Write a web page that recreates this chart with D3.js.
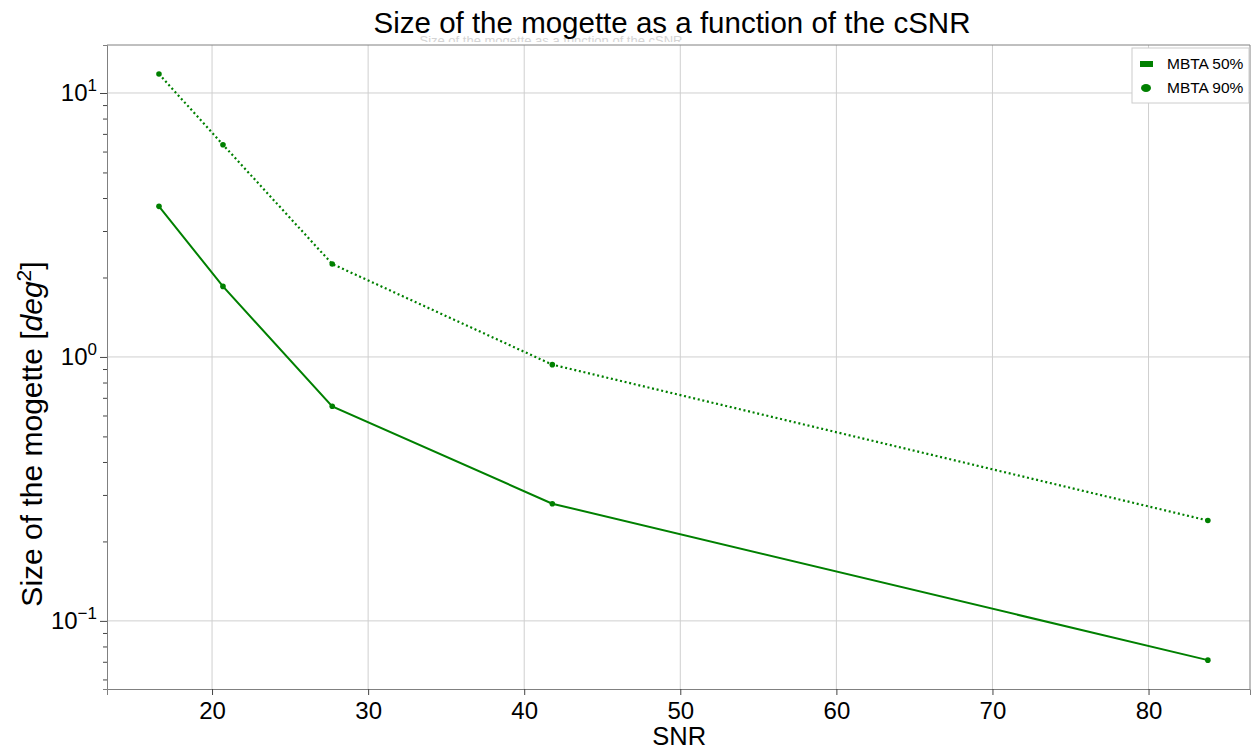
<!DOCTYPE html>
<html>
<head>
<meta charset="utf-8">
<script src="https://cdn.jsdelivr.net/npm/d3@7"></script>
<style>
  body { margin: 0; background: #fff; }
  svg { font-family: "Liberation Sans", Arial, sans-serif; }
</style>
</head>
<body>
<div id="chart"></div>
<script>
const snr = [16.6, 20.7, 27.7, 41.8, 83.8];
const mbta50 = [3.72, 1.85, 0.650, 0.278, 0.071];
const mbta90 = [11.8, 6.37, 2.25, 0.935, 0.240];
const xTicks = [20, 30, 40, 50, 60, 70, 80];
const seriesNames = ["MBTA 50%", "MBTA 90%"];

const width = 1251;
const height = 751;
const margin = {top:45, right:1, bottom:62, left:107};
const green = "#008000";

const svg = d3.select("#chart")
  .append("svg")
  .attr("width", width)
  .attr("height", height);

// X scale
const x = d3.scaleLinear()
  .domain([13.27, 86.5])
  .range([margin.left, width - margin.right]);

// Y scale (log)
const y = d3.scaleLog()
  .domain([0.0552, 15.2])
  .range([height - margin.bottom, margin.top]);

// faint ghost title behind the plot (only its top shows)
const clip = svg.append("clipPath").attr("id", "ghostclip");
clip.append("rect").attr("x", 0).attr("y", 0).attr("width", width).attr("height", 42);
svg.append("text")
  .attr("x", 551)
  .attr("y", 45)
  .attr("text-anchor", "middle")
  .attr("clip-path", "url(#ghostclip)")
  .style("font-size", "13px")
  .style("fill", "#d4d4d4")
  .text("Size of the mogette as a function of the cSNR");

// Grid
const major = [0.1, 1, 10];
svg.append("g")
  .selectAll("line")
  .data(xTicks)
  .join("line")
  .attr("x1", d => x(d)).attr("x2", d => x(d))
  .attr("y1", margin.top).attr("y2", height - margin.bottom)
  .attr("stroke", "#cfcfcf");
svg.append("g")
  .selectAll("line")
  .data(major)
  .join("line")
  .attr("x1", margin.left).attr("x2", width - margin.right)
  .attr("y1", d => y(d)).attr("y2", d => y(d))
  .attr("stroke", "#cfcfcf");

// X Axis
const xAxis = svg.append("g")
  .attr("transform", `translate(0,${height - margin.bottom})`)
  .call(d3.axisBottom(x).tickValues(xTicks).tickSize(6).tickPadding(7));
xAxis.select(".domain").attr("stroke", "#808080");
xAxis.selectAll(".tick line").attr("stroke", "#444");
xAxis.selectAll(".tick text")
  .style("font-size", "24px")
  .attr("fill", "#000");

// Y Axis with minor ticks
const yTickVals = y.ticks();
const yAxis = svg.append("g")
  .attr("transform", `translate(${margin.left},0)`)
  .call(d3.axisLeft(y).tickValues(yTickVals).tickFormat(() => "").tickSize(4));
yAxis.select(".domain").attr("stroke", "#808080");
yAxis.selectAll(".tick line")
  .attr("stroke", "#444")
  .attr("x2", d => major.includes(+d.toPrecision(3)) ? -7 : -4);

// major tick labels 10^n
const yLabels = svg.append("g").selectAll("text")
  .data(major)
  .join("text")
  .attr("x", 97)
  .attr("y", d => y(d) + 8)
  .attr("text-anchor", "end")
  .style("font-size", "24px");
yLabels.append("tspan").text("10");
yLabels.append("tspan")
  .attr("dy", -10)
  .style("font-size", "17px")
  .text(d => d3.format("d")(Math.round(Math.log10(d))).replace("-", "\u2212"));

// Right and top spines
svg.append("line")
  .attr("x1", margin.left).attr("x2", width - margin.right)
  .attr("y1", margin.top).attr("y2", margin.top)
  .attr("stroke", "#808080");
svg.append("line")
  .attr("x1", width - margin.right).attr("x2", width - margin.right)
  .attr("y1", margin.top).attr("y2", height - margin.bottom)
  .attr("stroke", "#808080");

// Lines
const line = d3.line()
  .x(d => x(d[0]))
  .y(d => y(d[1]));

const data50 = snr.map((s, i) => [s, mbta50[i]]);
const data90 = snr.map((s, i) => [s, mbta90[i]]);

svg.append("path")
  .datum(data50)
  .attr("d", line)
  .attr("fill", "none")
  .attr("stroke", green)
  .attr("stroke-width", 2);

svg.append("path")
  .datum(data90)
  .attr("d", line)
  .attr("fill", "none")
  .attr("stroke", green)
  .attr("stroke-width", 2.2)
  .attr("stroke-dasharray", "2,2.7");

svg.append("g").selectAll("circle")
  .data(data50.concat(data90))
  .join("circle")
  .attr("cx", d => x(d[0]))
  .attr("cy", d => y(d[1]))
  .attr("r", 2.8)
  .attr("fill", green);

// Legend
const lg = svg.append("g");
lg.append("rect")
  .attr("x", 1132).attr("y", 48)
  .attr("width", 117).attr("height", 55)
  .attr("fill", "#fff")
  .attr("stroke", "#cccccc");
lg.append("rect")
  .attr("x", 1140).attr("y", 61)
  .attr("width", 13).attr("height", 6)
  .attr("fill", green);
lg.append("ellipse")
  .attr("cx", 1146).attr("cy", 88)
  .attr("rx", 5).attr("ry", 4)
  .attr("fill", green);
lg.selectAll("text")
  .data(seriesNames)
  .join("text")
  .attr("x", 1167)
  .attr("y", (d, i) => 69 + i * 24)
  .style("font-size", "15.5px")
  .text(d => d);

// Title
svg.append("text")
  .attr("x", 672)
  .attr("y", 33)
  .attr("text-anchor", "middle")
  .style("font-size", "29.5px")
  .text("Size of the mogette as a function of the cSNR");

// X axis label
svg.append("text")
  .attr("x", x(50) - 1)
  .attr("y", 745)
  .attr("text-anchor", "middle")
  .style("font-size", "25.5px")
  .text("SNR");

// Y axis label
const yl = svg.append("text")
  .attr("transform", "rotate(-90)")
  .attr("x", -434)
  .attr("y", 42)
  .attr("text-anchor", "middle")
  .style("font-size", "30px");
yl.append("tspan").text("Size of the mogette [");
yl.append("tspan").style("font-style", "italic").text("deg");
yl.append("tspan").attr("dy", -11).style("font-size", "21px").text("2");
yl.append("tspan").attr("dy", 11).text("]");
</script>
</body>
</html>
